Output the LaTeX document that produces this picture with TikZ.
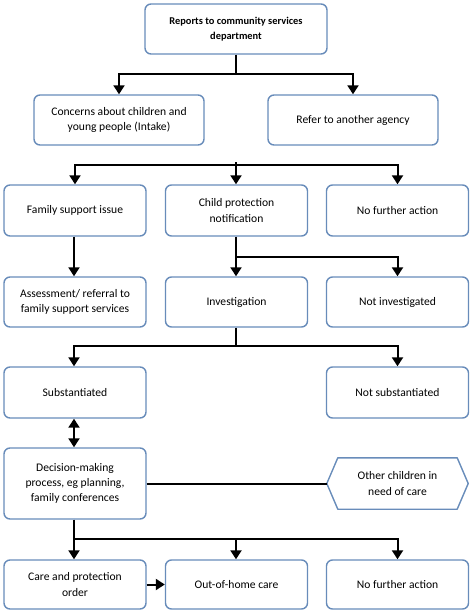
\documentclass[tikz,border=0pt]{standalone}
\usepackage{fontspec}
\setmainfont{Carlito}
\usetikzlibrary{arrows.meta,calc}
\definecolor{boxline}{RGB}{104,140,186}
\begin{document}
\begin{tikzpicture}[x=1pt,y=-1pt,
  box/.style={draw=boxline,line width=1.4pt,fill=white,rounded corners=6pt,align=center,
    inner sep=2pt,font=\fontsize{11.6}{15.2}\selectfont},
  hexnode/.style={align=center,inner sep=2pt,font=\fontsize{11.6}{15.2}\selectfont},
  link/.style={line width=2pt,draw=black},
  arr/.style={link,-{Triangle[width=11pt,length=9pt]}},
  darr/.style={link,{Triangle[width=11pt,length=9pt]}-{Triangle[width=11pt,length=9pt]}}]
\useasboundingbox (0,0) rectangle (474,615);

% nodes
\node[box,minimum width=182pt,minimum height=50pt,font=\fontsize{10.4}{15}\selectfont\bfseries] (top) at (236,29) {Reports to community services\\department};
\node[box,minimum width=170pt,minimum height=50pt] (conc) at (119,120) {Concerns about children and\\young people (Intake)};
\node[box,minimum width=170pt,minimum height=50pt] (refer) at (353,120) {Refer to another agency};

\node[box,minimum width=142pt,minimum height=51pt] (fam) at (75,210.5) {Family support issue};
\node[box,minimum width=142pt,minimum height=51pt] (cp) at (236.5,210.5) {Child protection\\notification};
\node[box,minimum width=142pt,minimum height=51pt] (nfa) at (397.5,210.5) {No further action};

\node[box,minimum width=142pt,minimum height=50pt] (assess) at (75,302) {Assessment/ referral to\\family support services};
\node[box,minimum width=142pt,minimum height=50pt] (inv) at (236.5,302) {Investigation};
\node[box,minimum width=142pt,minimum height=50pt] (notinv) at (397.5,302) {Not investigated};

\node[box,minimum width=142pt,minimum height=51pt] (sub) at (75,392.5) {Substantiated};
\node[box,minimum width=142pt,minimum height=51pt] (notsub) at (397.5,392.5) {Not substantiated};

\node[box,minimum width=142pt,minimum height=71pt] (dec) at (75,483.5) {Decision-making\\process, eg planning,\\family conferences};
\node[hexnode,minimum width=141pt,minimum height=51pt] (hex) at (397.5,483.5) {Other children in\\need of care};
\draw[draw=boxline,line width=1.4pt,line join=round]
  (hex.west) -- ($(hex.north west)+(11,0)$) -- ($(hex.north east)+(-11,0)$) -- (hex.east)
  -- ($(hex.south east)+(-11,0)$) -- ($(hex.south west)+(11,0)$) -- cycle;

\node[box,minimum width=142pt,minimum height=49pt] (care) at (75,584.5) {Care and protection\\order};
\node[box,minimum width=142pt,minimum height=49pt] (ooh) at (236.5,584.5) {Out-of-home care};
\node[box,minimum width=142pt,minimum height=49pt] (nfa2) at (397.5,584.5) {No further action};

% junctions
\coordinate (j1) at (236,74);
\coordinate (j2) at (236,165);
\coordinate (j2s) at (236,162);
\coordinate (j3) at (236,257);
\coordinate (j4) at (236,346);
\coordinate (j5) at (74,539);

% connectors
\draw[link] (top.south) -- (j1);
\draw[arr] (j1) -| (conc.north);
\draw[arr] (j1) -| (refer.north);

\draw[link] (j2s) -- (j2);
\draw[arr] (j2) -| (fam.north);
\draw[arr] (j2) -- (cp.north -| j2);
\draw[arr] (j2) -| (nfa.north);

\draw[arr] (fam.south -| 74,0) -- (assess.north -| 74,0);
\draw[link] (cp.south -| j3) -- (j3);
\draw[arr] (j3) -- (inv.north -| j3);
\draw[arr] (j3) -| (notinv.north);

\draw[link] (inv.south -| j4) -- (j4);
\draw[arr] (j4) -| (sub.north -| 74,0);
\draw[arr] (j4) -| (notsub.north);

\draw[darr] (sub.south -| 74,0) -- (dec.north -| 74,0);
\draw[link] (dec.east) -- (hex.west);

\draw[link] (dec.south -| j5) -- (j5);
\draw[arr] (j5) -- (care.north -| j5);
\draw[arr] (j5) -| (ooh.north -| j4);
\draw[arr] (j5) -| (nfa2.north);
\draw[arr] (care.east) -- (ooh.west);
\end{tikzpicture}
\end{document}
